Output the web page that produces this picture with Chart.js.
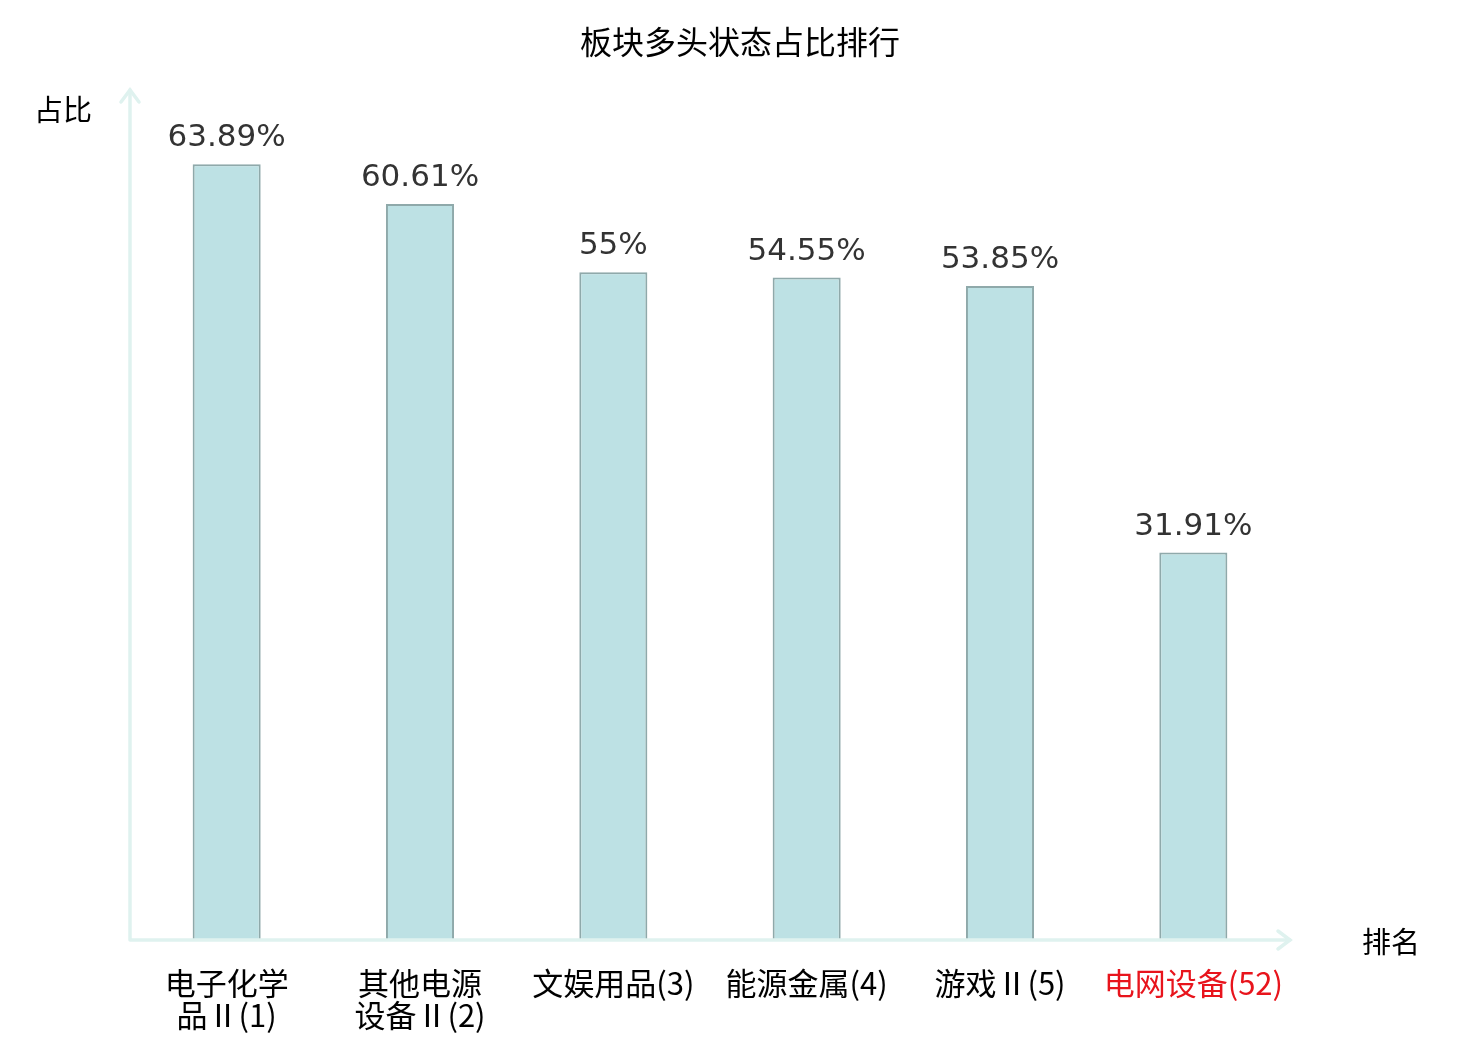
<!DOCTYPE html>
<html>
<head>
<meta charset="utf-8">
<script src="https://cdn.jsdelivr.net/npm/chart.js@4.4.1/dist/chart.umd.min.js"></script>
<style>
  html, body { margin: 0; padding: 0; background: #fff; }
  #wrap { width: 1480px; height: 1040px; }
</style>
</head>
<body>
<div id="wrap"><canvas id="rankChart" width="1480" height="1040"></canvas></div>
<script>
const categories = [
  ['电子化学', '品Ⅱ(1)'],
  ['其他电源', '设备Ⅱ(2)'],
  '文娱用品(3)',
  '能源金属(4)',
  '游戏Ⅱ(5)',
  '电网设备(52)',
];
const shareValues = [63.89, 60.61, 55, 54.55, 53.85, 31.91];
const valueLabels = ['63.89%', '60.61%', '55%', '54.55%', '53.85%', '31.91%'];
const tickColors = ['#000', '#000', '#000', '#000', '#000', '#e8141c'];

const AXIS_COLOR = '#dff2ef';
const CJK = '"Noto Sans CJK SC", "DejaVu Sans", sans-serif';

// axis lines with arrows, axis titles, chart title and value labels
const decorPlugin = {
  id: 'decor',
  afterDatasetsDraw(chart) {
    const ctx = chart.ctx;
    const area = chart.chartArea;
    ctx.save();

    ctx.strokeStyle = AXIS_COLOR;
    ctx.lineWidth = 3.5;
    ctx.lineCap = 'round';
    ctx.beginPath();
    ctx.moveTo(area.left, area.bottom);
    ctx.lineTo(area.left, area.top);
    ctx.moveTo(area.left, area.bottom);
    ctx.lineTo(area.right, area.bottom);
    ctx.stroke();

    ctx.beginPath();
    ctx.moveTo(area.left - 9, area.top + 12);
    ctx.lineTo(area.left, area.top);
    ctx.lineTo(area.left + 9, area.top + 12);
    ctx.moveTo(area.right - 12, area.bottom - 9);
    ctx.lineTo(area.right, area.bottom);
    ctx.lineTo(area.right - 12, area.bottom + 9);
    ctx.stroke();

    ctx.fillStyle = '#000';
    ctx.textBaseline = 'middle';
    ctx.textAlign = 'center';
    ctx.font = '32px ' + CJK;
    ctx.fillText('板块多头状态占比排行', chart.width / 2, 42);
    ctx.font = '29px ' + CJK;
    ctx.fillText('占比', 63, 110);
    ctx.fillText('排名', 1391, 942);

    const meta = chart.getDatasetMeta(0);
    ctx.fillStyle = '#333';
    ctx.font = '31px "DejaVu Sans", sans-serif';
    ctx.textBaseline = 'alphabetic';
    meta.data.forEach((bar, i) => {
      ctx.fillText(valueLabels[i], bar.x, bar.y - 18);
    });

    ctx.restore();
  }
};

new Chart(document.getElementById('rankChart'), {
  type: 'bar',
  data: {
    labels: categories,
    datasets: [{
      label: '占比',
      data: shareValues,
      backgroundColor: '#bde1e4',
      borderColor: '#8fa9aa',
      borderWidth: 2,
      borderSkipped: 'bottom',
      barPercentage: 0.352,
      categoryPercentage: 1,
    }],
  },
  options: {
    responsive: false,
    animation: false,
    devicePixelRatio: 1,
    layout: {
      padding: { left: 130, right: 190, top: 90, bottom: 0 },
    },
    plugins: {
      legend: { display: false },
      title: { display: false },
      tooltip: { enabled: false },
    },
    scales: {
      y: {
        display: false,
        min: 0,
        max: 70,
      },
      x: {
        afterFit(scale) { scale.height = 100; },
        grid: { display: false, drawTicks: false },
        border: { display: false },
        ticks: {
          padding: 27,
          maxRotation: 0,
          autoSkip: false,
          color: tickColors,
          font: { size: 31, family: CJK, lineHeight: 1.03 },
        },
      },
    },
  },
  plugins: [decorPlugin],
});
</script>
</body>
</html>
